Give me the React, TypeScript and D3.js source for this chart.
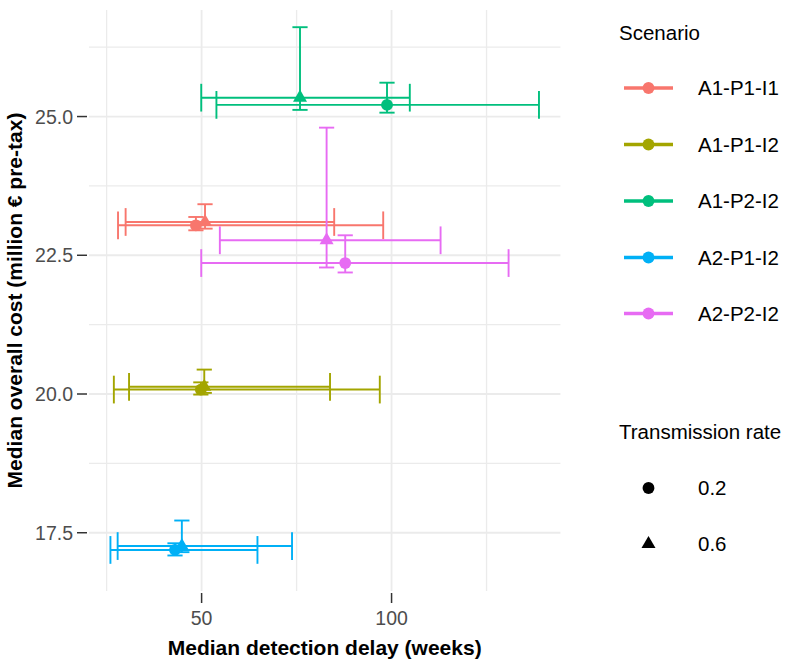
import * as d3 from 'd3';

// scenarios and colours (ggplot default hue palette)
const scenarios = ['A1-P1-I1', 'A1-P1-I2', 'A1-P2-I2', 'A2-P1-I2', 'A2-P2-I2'];
const colors = ['#F8766D', '#A3A500', '#00BF7D', '#00B0F6', '#E76BF3'];
const rates = ['0.2', '0.6'];

// one entry per scenario x rate
const rowScenario = ['A1-P1-I1', 'A1-P1-I1', 'A1-P1-I2', 'A1-P1-I2', 'A1-P2-I2', 'A1-P2-I2', 'A2-P1-I2', 'A2-P1-I2', 'A2-P2-I2', 'A2-P2-I2'];
const rowRate = ['0.2', '0.6', '0.2', '0.6', '0.2', '0.6', '0.2', '0.6', '0.2', '0.6'];
const delay = [48.5, 50.9, 49.8, 50.7, 98.8, 75.9, 43.0, 44.8, 87.8, 82.9];
const delayLo = [28.0, 30.0, 26.9, 30.9, 53.9, 49.9, 26.0, 27.9, 49.9, 54.8];
const delayHi = [97.8, 84.9, 96.9, 83.8, 138.8, 104.8, 64.7, 73.8, 130.8, 112.9];
const cost = [23.04, 23.10, 20.08, 20.13, 25.21, 25.34, 17.19, 17.26, 22.36, 22.77];
const costLo = [22.95, 22.98, 19.99, 20.02, 25.07, 25.12, 17.09, 17.15, 22.19, 22.28];
const costHi = [23.19, 23.42, 20.21, 20.44, 25.61, 26.61, 17.31, 17.72, 22.86, 24.80];

const xMajor = [50, 100];
const xMinor = [25, 75, 125];
const yMajor = [17.5, 20.0, 22.5, 25.0];
const yMinor = [18.75, 21.25, 23.75, 26.25];

const W = 788;
const H = 661;
const margin = { top: 10, right: 227.6, bottom: 70, left: 89 };
const innerW = W - margin.left - margin.right;
const innerH = H - margin.top - margin.bottom;

// errorbar cap sizes in data units
const capW = 4;
const capH = 0.5;

const font = '"Liberation Sans", Arial, Helvetica, sans-serif';

export default function App() {
  // x: 5% expansion around the errorbar extent, like ggplot
  const xMin = d3.min(delayLo) as number;
  const xMax = d3.max(delayHi) as number;
  const pad = (xMax - xMin) * 0.05;
  const xs = d3.scaleLinear().domain([xMin - pad, xMax + pad]).range([0, innerW]);
  const ys = d3.scaleLinear().domain([16.45, 26.92]).range([innerH, 0]);
  const color = d3.scaleOrdinal<string, string>().domain(scenarios).range(colors);
  const circle = d3.symbol().type(d3.symbolCircle).size(110)();
  const triangle = d3.symbol().type(d3.symbolTriangle).size(85)();
  const shapeOf = (r: string) => (r === '0.2' ? circle : triangle);

  const rows = delay.map((d, i) => ({
    scenario: rowScenario[i],
    rate: rowRate[i],
    x: d,
    x0: delayLo[i],
    x1: delayHi[i],
    y: cost[i],
    y0: costLo[i],
    y1: costHi[i],
  }));

  const legX = 619;
  const rowY = [88, 144.5, 201, 257.5, 313.5];
  const shapeY = [488, 544];

  return (
    <div style={{ position: 'fixed', left: 0, top: 0 }}>
      <svg width={W} height={H} style={{ display: 'block', background: '#fff' }} fontFamily={font}>
        <g transform={`translate(${margin.left},${margin.top})`}>
          {/* grid */}
          {yMinor.map((v) => (
            <line key={'ym' + v} x1={0} x2={innerW} y1={ys(v)} y2={ys(v)} stroke="#EBEBEB" strokeWidth={1.3} />
          ))}
          {xMinor.map((v) => (
            <line key={'xm' + v} x1={xs(v)} x2={xs(v)} y1={0} y2={innerH} stroke="#EBEBEB" strokeWidth={1.3} />
          ))}
          {yMajor.map((v) => (
            <line key={'yM' + v} x1={0} x2={innerW} y1={ys(v)} y2={ys(v)} stroke="#EBEBEB" strokeWidth={1.8} />
          ))}
          {xMajor.map((v) => (
            <line key={'xM' + v} x1={xs(v)} x2={xs(v)} y1={0} y2={innerH} stroke="#EBEBEB" strokeWidth={1.8} />
          ))}

          {/* errorbars */}
          {rows.map((r, i) => {
            const c = color(r.scenario);
            return (
              <g key={'eb' + i} stroke={c} strokeWidth={1.9} fill="none">
                <line x1={xs(r.x)} x2={xs(r.x)} y1={ys(r.y0)} y2={ys(r.y1)} />
                <line x1={xs(r.x - capW / 2)} x2={xs(r.x + capW / 2)} y1={ys(r.y0)} y2={ys(r.y0)} />
                <line x1={xs(r.x - capW / 2)} x2={xs(r.x + capW / 2)} y1={ys(r.y1)} y2={ys(r.y1)} />
                <line x1={xs(r.x0)} x2={xs(r.x1)} y1={ys(r.y)} y2={ys(r.y)} />
                <line x1={xs(r.x0)} x2={xs(r.x0)} y1={ys(r.y - capH / 2)} y2={ys(r.y + capH / 2)} />
                <line x1={xs(r.x1)} x2={xs(r.x1)} y1={ys(r.y - capH / 2)} y2={ys(r.y + capH / 2)} />
              </g>
            );
          })}
          {/* points */}
          {rows.map((r, i) => (
            <path key={'pt' + i} d={shapeOf(r.rate) || ''} transform={`translate(${xs(r.x)},${ys(r.y)})`} fill={color(r.scenario)} />
          ))}

          {/* x axis */}
          {xMajor.map((v) => (
            <g key={'xt' + v} transform={`translate(${xs(v)},${innerH})`}>
              <line y1={2} y2={12} stroke="#333333" strokeWidth={1.5} />
              <text y={34} textAnchor="middle" fontSize={19.5} fill="#4D4D4D">{v}</text>
            </g>
          ))}
          {/* y axis */}
          {yMajor.map((v) => (
            <g key={'yt' + v} transform={`translate(0,${ys(v)})`}>
              <line x1={-12} x2={-2} stroke="#333333" strokeWidth={1.5} />
              <text x={-16} dy={7} textAnchor="end" fontSize={19.5} fill="#4D4D4D">{d3.format('.1f')(v)}</text>
            </g>
          ))}
          <text x={innerW / 2} y={innerH + 64} textAnchor="middle" fontSize={21} fontWeight="bold" fill="#000">
            Median detection delay (weeks)
          </text>
        </g>
        <text transform={`translate(22,${margin.top + innerH / 2}) rotate(-90)`} textAnchor="middle" fontSize={21} fontWeight="bold" fill="#000">
          Median overall cost (million € pre-tax)
        </text>

        {/* legends */}
        <text x={legX} y={39.5} fontSize={20.5} fill="#000">Scenario</text>
        {scenarios.map((s, i) => (
          <g key={'lg' + s} transform={`translate(0,${rowY[i]})`}>
            <line x1={624} x2={673} stroke={color(s)} strokeWidth={3.5} />
            <path d={circle || ''} transform="translate(648.5,0)" fill={color(s)} />
            <text x={698} dy={7.3} fontSize={20.5} fill="#000">{s}</text>
          </g>
        ))}
        <text x={legX} y={438.5} fontSize={20.5} fill="#000">Transmission rate</text>
        {rates.map((r, i) => (
          <g key={'ls' + r} transform={`translate(0,${shapeY[i]})`}>
            <path d={shapeOf(r) || ''} transform="translate(648.5,0)" fill="#000" />
            <text x={698} dy={7.3} fontSize={20.5} fill="#000">{r}</text>
          </g>
        ))}
      </svg>
    </div>
  );
}
